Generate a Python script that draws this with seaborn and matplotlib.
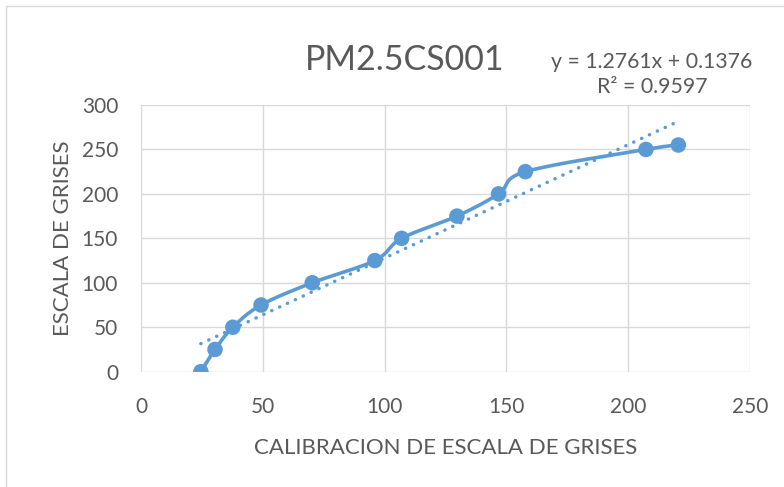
import numpy as np
import pandas as pd
import matplotlib
matplotlib.use("Agg")
import matplotlib.pyplot as plt
from matplotlib.patches import Rectangle
import seaborn as sns

# Calibration readings
calibracion = [24.6, 30.4, 37.7, 49.3, 70.3, 96.0, 107.0, 129.7, 146.8, 157.8, 207.3, 220.6]
escala_grises = [0, 25, 50, 75, 100, 125, 150, 175, 200, 225, 250, 255]

# Linear trendline reported on the chart
pendiente = 1.2761
intercepto = 0.1376
r2 = 0.9597

x_ticks = [0, 50, 100, 150, 200, 250]
y_ticks = [0, 50, 100, 150, 200, 250, 300]

AZUL = "#5B9BD5"
GRIS_TEXTO = "#595959"
GRIS_REJILLA = "#D9D9D9"

sns.set_theme(style="white")
plt.rcParams["font.family"] = ["Lato", "DejaVu Sans"]

fig = plt.figure(figsize=(7.84, 4.87), dpi=100)
ax = fig.add_axes([0.1798, 0.2368, 0.9566 - 0.1798, 0.7844 - 0.2368])

x_lim = (0, 250)
y_lim = (0, 300)


def suavizar(xs, ys, n=40):
    """Excel-style smoothed line: cubic Bezier segments with Catmull-Rom tangents,
    built in screen-proportional units so both axes bend evenly."""
    sx = 608.0 / (x_lim[1] - x_lim[0])
    sy = 267.0 / (y_lim[1] - y_lim[0])
    p = np.column_stack([np.asarray(xs) * sx, np.asarray(ys) * sy])
    out = []
    for i in range(len(p) - 1):
        p0 = p[i - 1] if i > 0 else p[i]
        p1 = p[i]
        p2 = p[i + 1]
        p3 = p[i + 2] if i + 2 < len(p) else p[i + 1]
        c1 = p1 + (p2 - p0) / 6.0
        c2 = p2 - (p3 - p1) / 6.0
        t = np.linspace(0, 1, n, endpoint=(i == len(p) - 2))[:, None]
        seg = ((1 - t) ** 3) * p1 + 3 * ((1 - t) ** 2) * t * c1 + 3 * (1 - t) * t ** 2 * c2 + t ** 3 * p2
        out.append(seg)
    out = np.vstack(out)
    return out[:, 0] / sx, out[:, 1] / sy


cx, cy = suavizar(calibracion, escala_grises)
curva = pd.DataFrame({"x": cx, "y": cy, "orden": np.arange(len(cx))})
puntos = pd.DataFrame({"x": calibracion, "y": escala_grises})

tx = np.array([min(calibracion), max(calibracion)])
tendencia = pd.DataFrame({"x": tx, "y": pendiente * tx + intercepto})

# round dotted trendline
sns.lineplot(data=tendencia, x="x", y="y", ax=ax, color=AZUL, lw=2.5,
             linestyle=(0, (0.05, 2.45)), dash_capstyle="round", zorder=3)
sns.lineplot(data=curva, x="x", y="y", sort=False, estimator=None, ax=ax,
             color=AZUL, lw=2.6, zorder=4)
sns.scatterplot(data=puntos, x="x", y="y", ax=ax, color=AZUL, s=125,
                edgecolor="none", linewidth=0, zorder=5)

ax.set_xlim(*x_lim)
ax.set_ylim(*y_lim)
ax.set_xticks(x_ticks)
ax.set_yticks(y_ticks)
ax.grid(True, color=GRIS_REJILLA, lw=1.0)
for s in ax.spines.values():
    s.set_visible(False)
ax.tick_params(axis="both", length=0, labelsize=15, colors=GRIS_TEXTO)
ax.tick_params(axis="y", pad=16.5)
ax.tick_params(axis="x", pad=18)
ax.set_axisbelow(True)

ax.set_xlabel("CALIBRACION DE ESCALA DE GRISES", fontsize=16, color=GRIS_TEXTO, labelpad=15)
ax.set_ylabel("ESCALA DE GRISES", fontsize=16, color=GRIS_TEXTO, labelpad=6)

fig.text(405 / 784, 1 - 60 / 487, "PM2.5CS001", fontsize=24.5, color=GRIS_TEXTO,
         ha="center", va="center")
fig.text(652 / 784, 1 - 62 / 487, f"y = {pendiente}x + {intercepto}", fontsize=15.3,
         color=GRIS_TEXTO, ha="center", va="center")
fig.text(652 / 784, 1 - 87 / 487, f"R² = {r2}", fontsize=15.3,
         color=GRIS_TEXTO, ha="center", va="center")

# chart area outline
fig.patches.append(Rectangle((6 / 784, -0.1), 1.2, 1 - 6 / 487 + 0.1,
                             transform=fig.transFigure, fill=False,
                             edgecolor="#D9D9D9", lw=1.0))

fig.savefig("out.png", dpi=100)
